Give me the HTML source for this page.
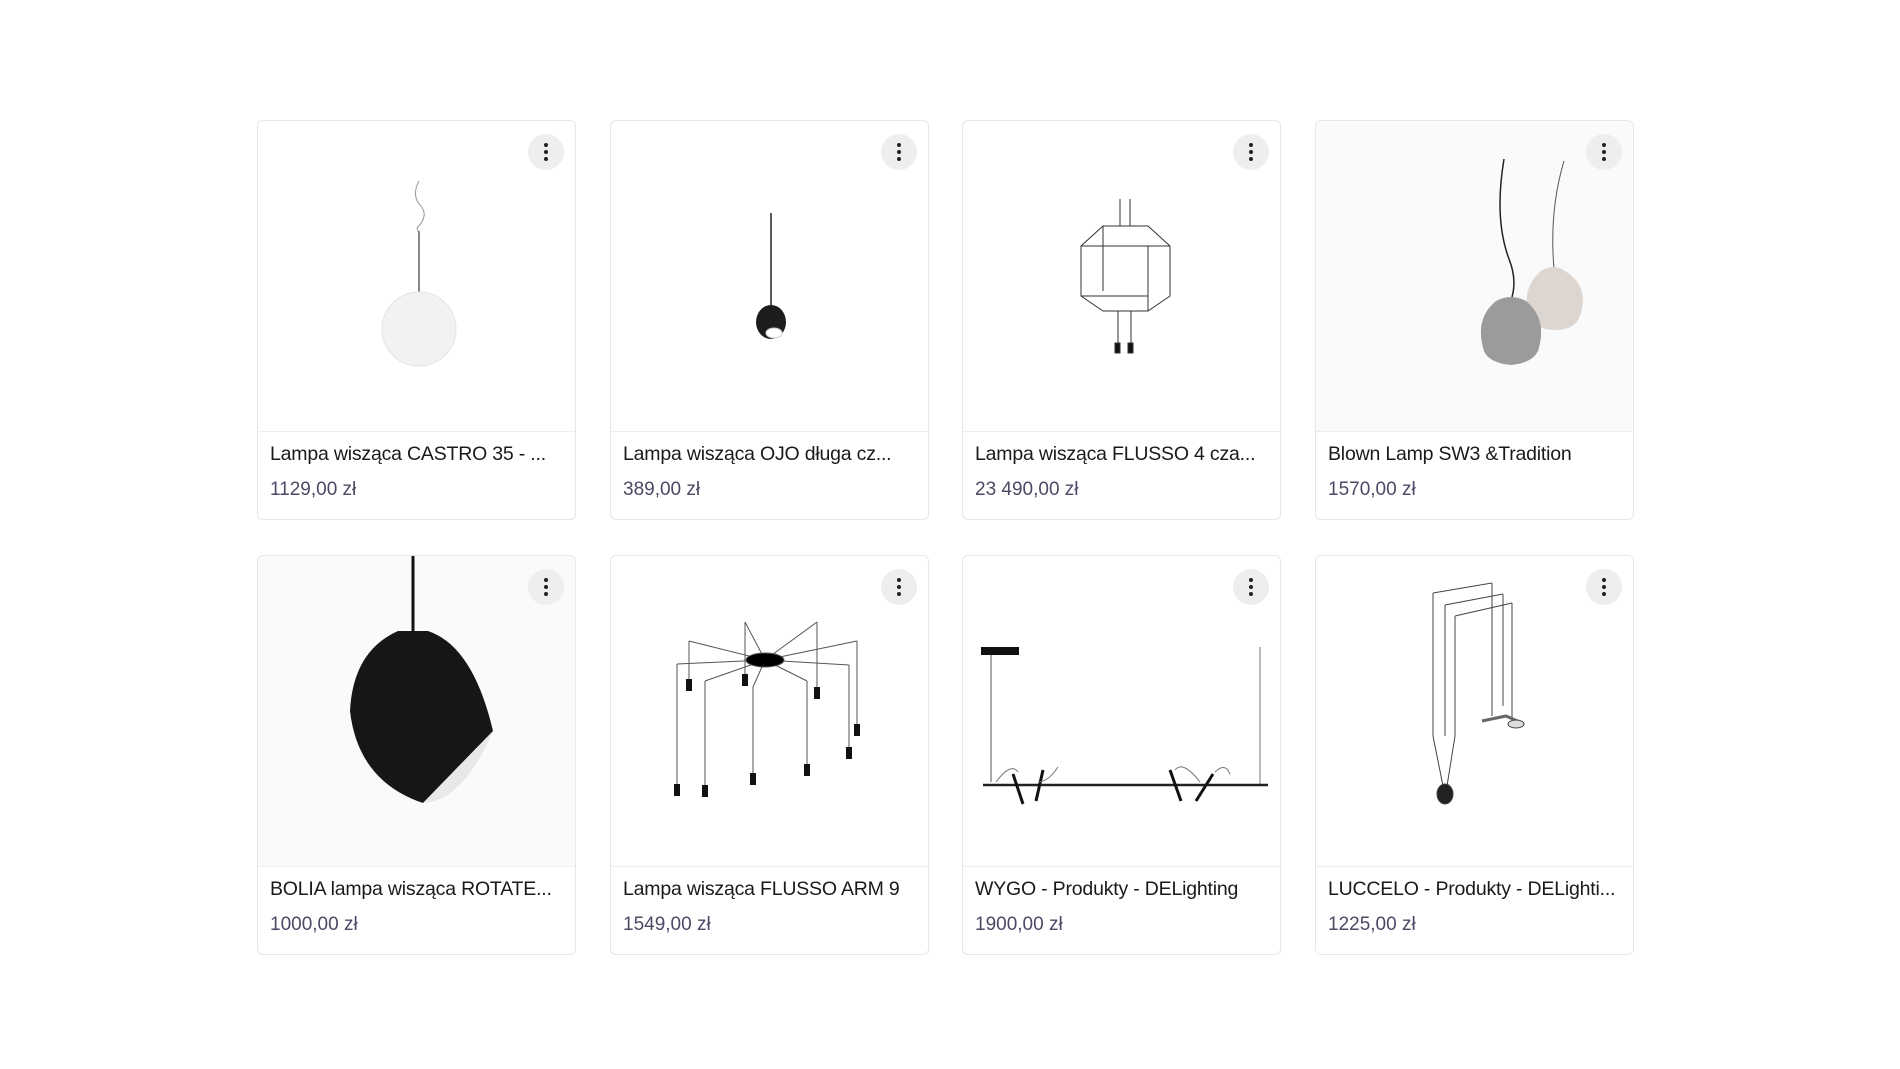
<!DOCTYPE html>
<html><head><meta charset="utf-8"><style>
body{margin:0;width:1900px;height:1069px;background:#fff;position:relative;overflow:hidden;font-family:"Liberation Sans",sans-serif}
.card{position:absolute;width:319px;height:400px;border:1px solid #e6e7ea;border-radius:6px;box-sizing:border-box;background:#fff;overflow:hidden}
.img{position:absolute;left:0;top:0;width:317px;height:310px;border-bottom:1px solid #eceef1}
.img svg{position:absolute;left:0;top:0}
.t{position:absolute;left:12px;top:322px;font-size:19.5px;color:#1a1a1a;white-space:nowrap;letter-spacing:-0.2px}
.p{position:absolute;left:12px;top:358px;font-size:19px;color:#4a4a66}
.m{position:absolute;left:270px;top:13px;width:36px;height:36px;border-radius:50%;background:#eceef0}
.m i{position:absolute;left:16px;width:4px;height:4px;border-radius:50%;background:#222}
</style></head><body>

<div class="card" style="left:257px;top:120px"><div class="img"><svg width="318" height="311">
<path d="M161 60 q-8 15 2 25 q8 10 -4 22 l2 6" stroke="#999" fill="none" stroke-width="1"/>
<line x1="161" y1="110" x2="161" y2="172" stroke="#888" stroke-width="2"/>
<circle cx="161" cy="208" r="37" fill="#f2f2f2" stroke="#e4e4e4"/></svg></div>
<div class="m"><i style="top:9px"></i><i style="top:16px"></i><i style="top:23px"></i></div>
<div class="t">Lampa wisząca CASTRO 35 - ...</div><div class="p">1129,00 zł</div></div>

<div class="card" style="left:610px;top:120px"><div class="img"><svg width="318" height="311">
<line x1="160" y1="92" x2="160" y2="186" stroke="#222" stroke-width="1.5"/>
<ellipse cx="160" cy="201" rx="15" ry="17" fill="#1d1d1d"/><ellipse cx="163" cy="212" rx="8" ry="5" fill="#fff" stroke="#ccc"/></svg></div>
<div class="m"><i style="top:9px"></i><i style="top:16px"></i><i style="top:23px"></i></div>
<div class="t">Lampa wisząca OJO długa cz...</div><div class="p">389,00 zł</div></div>

<div class="card" style="left:962px;top:120px"><div class="img"><svg width="318" height="311" stroke="#333" fill="none" stroke-width="1">
<line x1="157" y1="78" x2="157" y2="105"/><line x1="167" y1="78" x2="167" y2="105"/>
<path d="M140 105 L185 105 L207 125 L207 175 L185 190 L140 190 L118 175 L118 125 Z M118 125 L185 125 L207 125 M140 105 L140 170 M185 125 L185 190 M118 175 L185 175"/>
<line x1="155" y1="190" x2="155" y2="230"/><line x1="168" y1="190" x2="168" y2="230"/>
<rect x="152" y="222" width="5" height="10" fill="#111"/><rect x="165" y="222" width="5" height="10" fill="#111"/></svg></div>
<div class="m"><i style="top:9px"></i><i style="top:16px"></i><i style="top:23px"></i></div>
<div class="t">Lampa wisząca FLUSSO 4 cza...</div><div class="p">23 490,00 zł</div></div>

<div class="card" style="left:1315px;top:120px"><div class="img" style="background:#fafafa"><svg width="318" height="311">
<path d="M188 38 q-10 60 5 100 q8 20 3 38" stroke="#222" fill="none" stroke-width="1.5"/>
<path d="M248 40 q-15 50 -10 108" stroke="#555" fill="none" stroke-width="1"/>
<path d="M225 150 q12 -8 24 0 q25 15 15 45 q-5 14 -25 14 q-20 0 -26 -14 q-8 -28 12 -45z" fill="#ddd6d0"/>
<path d="M180 180 q15 -8 30 0 q22 18 12 50 q-6 12 -27 14 q-22 -2 -27 -14 q-10 -32 12 -50z" fill="#9b9b9b"/></svg></div>
<div class="m"><i style="top:9px"></i><i style="top:16px"></i><i style="top:23px"></i></div>
<div class="t">Blown Lamp SW3 &amp;Tradition</div><div class="p">1570,00 zł</div></div>

<div class="card" style="left:257px;top:555px"><div class="img" style="background:#fafafa"><svg width="318" height="311">
<line x1="155" y1="0" x2="155" y2="75" stroke="#111" stroke-width="3"/>
<path d="M140 75 L170 75 Q215 90 235 175 L165 247 Q100 225 92 155 Q95 95 140 75Z" fill="#161616"/>
<path d="M235 175 L165 247 Q205 245 235 175Z" fill="#e8e8e8"/></svg></div>
<div class="m"><i style="top:9px"></i><i style="top:16px"></i><i style="top:23px"></i></div>
<div class="t">BOLIA lampa wisząca ROTATE...</div><div class="p">1000,00 zł</div></div>

<div class="card" style="left:610px;top:555px"><div class="img"><svg width="318" height="311" stroke="#555" stroke-width="1" fill="none">
<g><line x1="154" y1="104" x2="134" y2="66"/><line x1="154" y1="104" x2="206" y2="66"/><line x1="154" y1="104" x2="78" y2="85"/><line x1="154" y1="104" x2="246" y2="85"/><line x1="154" y1="104" x2="66" y2="108"/><line x1="154" y1="104" x2="238" y2="109"/><line x1="154" y1="104" x2="94" y2="125"/><line x1="154" y1="104" x2="142" y2="131"/><line x1="154" y1="104" x2="196" y2="125"/>
<line x1="134" y1="66" x2="134" y2="124"/><line x1="206" y1="66" x2="206" y2="137"/><line x1="78" y1="85" x2="78" y2="129"/><line x1="246" y1="85" x2="246" y2="174"/><line x1="66" y1="108" x2="66" y2="234"/><line x1="238" y1="109" x2="238" y2="197"/><line x1="94" y1="125" x2="94" y2="235"/><line x1="142" y1="131" x2="142" y2="223"/><line x1="196" y1="125" x2="196" y2="214"/></g>
<ellipse cx="154" cy="104" rx="19" ry="7" fill="#000"/>
<g fill="#111" stroke="none"><rect x="131" y="118" width="6" height="12"/><rect x="203" y="131" width="6" height="12"/><rect x="75" y="123" width="6" height="12"/><rect x="243" y="168" width="6" height="12"/><rect x="63" y="228" width="6" height="12"/><rect x="235" y="191" width="6" height="12"/><rect x="91" y="229" width="6" height="12"/><rect x="139" y="217" width="6" height="12"/><rect x="193" y="208" width="6" height="12"/></g></svg></div>
<div class="m"><i style="top:9px"></i><i style="top:16px"></i><i style="top:23px"></i></div>
<div class="t">Lampa wisząca FLUSSO ARM 9</div><div class="p">1549,00 zł</div></div>

<div class="card" style="left:962px;top:555px"><div class="img"><svg width="318" height="311">
<rect x="18" y="91" width="38" height="8" fill="#111"/>
<line x1="28" y1="99" x2="28" y2="226" stroke="#555"/><line x1="297" y1="91" x2="297" y2="228" stroke="#777"/>
<line x1="20" y1="229" x2="305" y2="229" stroke="#222" stroke-width="2.5"/>
<g stroke="#111" stroke-width="3"><line x1="50" y1="218" x2="60" y2="248"/><line x1="80" y1="214" x2="73" y2="245"/><line x1="207" y1="214" x2="218" y2="245"/><line x1="250" y1="218" x2="233" y2="245"/></g>
<path d="M33 226 q15 -20 22 -10 M75 226 q10 0 20 -15 M212 214 q8 -10 25 12 M252 216 q10 -10 15 2" stroke="#777" fill="none"/></svg></div>
<div class="m"><i style="top:9px"></i><i style="top:16px"></i><i style="top:23px"></i></div>
<div class="t">WYGO - Produkty - DELighting</div><div class="p">1900,00 zł</div></div>

<div class="card" style="left:1315px;top:555px"><div class="img"><svg width="318" height="311" stroke="#444" stroke-width="1" fill="none">
<path d="M117 37 L176 27 M129 49 L187 38 M139 60 L196 47"/>
<line x1="117" y1="37" x2="117" y2="180"/><line x1="129" y1="49" x2="129" y2="180"/><line x1="139" y1="60" x2="139" y2="180"/>
<line x1="176" y1="27" x2="176" y2="160"/><line x1="187" y1="38" x2="187" y2="150"/><line x1="196" y1="47" x2="196" y2="165"/>
<path d="M117 180 L127 230 M139 180 L131 230"/>
<ellipse cx="129" cy="238" rx="8" ry="10" fill="#222"/>
<path d="M166 165 L190 160 L208 168" stroke="#666" stroke-width="3"/><ellipse cx="200" cy="168" rx="8" ry="4" fill="#ddd"/></svg></div>
<div class="m"><i style="top:9px"></i><i style="top:16px"></i><i style="top:23px"></i></div>
<div class="t">LUCCELO - Produkty - DELighti...</div><div class="p">1225,00 zł</div></div>

</body></html>
